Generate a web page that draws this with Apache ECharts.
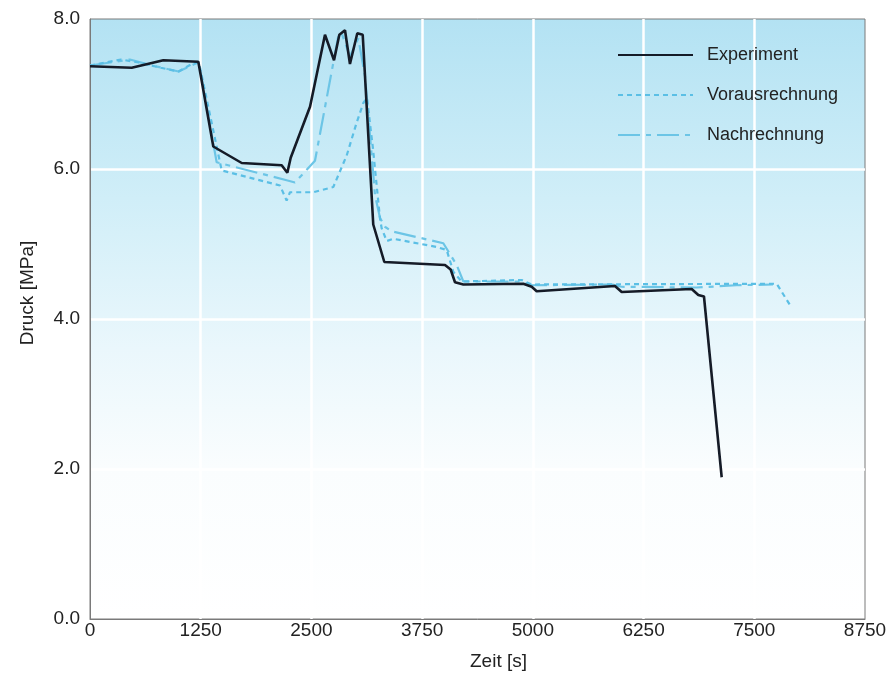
<!DOCTYPE html>
<html>
<head>
<meta charset="utf-8">
<script src="https://cdn.jsdelivr.net/npm/echarts@6/dist/echarts.min.js"></script>
<style>
html,body{margin:0;padding:0;background:#fff;}
#chart{width:891px;height:676px;}
</style>
</head>
<body>
<div id="chart"></div>
<script>
var seriesNames = ['Experiment', 'Vorausrechnung', 'Nachrechnung'];
var xTicks = [0, 1250, 2500, 3750, 5000, 6250, 7500, 8750];
var yTicks = [0, 2, 4, 6, 8];

var expTime = [0, 471, 828, 1223, 1392, 1713, 2164, 2228, 2266, 2484, 2653, 2755, 2815, 2879, 2935, 3018, 3079, 3198, 3323, 4008, 4072, 4121, 4215, 4892, 4987, 5043, 5927, 6003, 6793, 6868, 6932, 7132];
var expDruck = [7.37, 7.35, 7.45, 7.43, 6.30, 6.08, 6.05, 5.95, 6.15, 6.83, 7.79, 7.45, 7.79, 7.85, 7.40, 7.81, 7.79, 5.26, 4.76, 4.72, 4.66, 4.49, 4.46, 4.47, 4.43, 4.37, 4.44, 4.36, 4.40, 4.32, 4.30, 1.89];

var vorTime = [0, 350, 550, 800, 1000, 1150, 1230, 1487, 2145, 2220, 2258, 2521, 2747, 2898, 3011, 3086, 3127, 3195, 3274, 3293, 3350, 3424, 3914, 4027, 4102, 4196, 4874, 4987, 7753, 7922];
var vorDruck = [7.38, 7.46, 7.42, 7.35, 7.30, 7.40, 7.42, 5.98, 5.78, 5.58, 5.69, 5.69, 5.76, 6.18, 6.62, 6.88, 6.95, 6.27, 5.34, 5.21, 5.04, 5.07, 4.96, 4.92, 4.63, 4.50, 4.52, 4.46, 4.47, 4.15];

var nachTime = [0, 450, 700, 1000, 1180, 1230, 1430, 2220, 2314, 2540, 2803, 2841, 2935, 3029, 3105, 3218, 3274, 3330, 3406, 3989, 4140, 4215, 4870, 4990, 5900, 6000, 6850, 7300, 7711];
var nachDruck = [7.38, 7.46, 7.38, 7.30, 7.40, 7.42, 6.09, 5.85, 5.82, 6.11, 7.77, 7.81, 7.50, 7.74, 7.24, 5.65, 5.35, 5.23, 5.17, 5.01, 4.72, 4.50, 4.50, 4.45, 4.46, 4.43, 4.42, 4.45, 4.46];

function pairs(xs, ys) { return xs.map(function (x, i) { return [x, ys[i]]; }); }

var font = 'Liberation Sans, Arial, Helvetica, sans-serif';
var chart = echarts.init(document.getElementById('chart'), null, {renderer: 'canvas'});
chart.setOption({
  animation: false,
  grid: {
    left: 90, right: 26, top: 19, bottom: 53,
    show: true,
    borderColor: '#7a7a7a', borderWidth: 1,
    backgroundColor: {
      type: 'linear', x: 0, y: 0, x2: 0, y2: 1,
      colorStops: [
        {offset: 0, color: '#b3e2f3'},
        {offset: 0.3, color: '#d0eef8'},
        {offset: 0.55, color: '#eaf7fc'},
        {offset: 0.75, color: '#fafdfe'},
        {offset: 1, color: '#ffffff'}
      ]
    }
  },
  legend: {
    orient: 'vertical',
    left: 612, top: 41,
    itemWidth: 75, itemHeight: 14, itemGap: 22,
    data: seriesNames,
    itemStyle: {opacity: 0},
    textStyle: {fontFamily: font, fontSize: 18, color: '#222', padding: [0, 0, 0, 9]}
  },
  xAxis: {
    type: 'value', min: xTicks[0], max: xTicks[xTicks.length - 1], interval: 1250,
    name: 'Zeit [s]', nameLocation: 'middle', nameGap: 33,
    nameTextStyle: {fontFamily: font, fontSize: 19, color: '#222', padding: [0, 0, 0, 42]},
    axisLine: {show: true, lineStyle: {color: '#7a7a7a', width: 1}},
    axisTick: {show: false},
    axisLabel: {fontFamily: font, fontSize: 19, color: '#222', margin: 2, formatter: function (v) { return String(v); }},
    splitLine: {show: true, showMinLine: false, showMaxLine: false, lineStyle: {color: '#ffffff', width: 2.5}}
  },
  yAxis: {
    type: 'value', min: yTicks[0], max: yTicks[yTicks.length - 1], interval: 2,
    name: 'Druck [MPa]', nameLocation: 'middle', nameGap: 53,
    nameTextStyle: {fontFamily: font, fontSize: 19, color: '#222', padding: [0, 0, 0, 52]},
    axisLine: {show: true, lineStyle: {color: '#7a7a7a', width: 1}},
    axisTick: {show: false},
    axisLabel: {fontFamily: font, fontSize: 19, color: '#222', margin: 10, formatter: function (v) { return v.toFixed(1); }},
    splitLine: {show: true, showMinLine: false, showMaxLine: false, lineStyle: {color: '#ffffff', width: 2.5}}
  },
  series: [
    {
      name: seriesNames[0], type: 'line', data: pairs(expTime, expDruck),
      symbol: 'none', z: 5,
      lineStyle: {color: '#151b27', width: 2.6},
      itemStyle: {color: '#151b27'}
    },
    {
      name: seriesNames[1], type: 'line', data: pairs(vorTime, vorDruck),
      symbol: 'none', z: 4,
      lineStyle: {color: '#5bbfe5', width: 2.2, type: [5, 4]},
      itemStyle: {color: '#5bbfe5'}
    },
    {
      name: seriesNames[2], type: 'line', data: pairs(nachTime, nachDruck),
      symbol: 'none', z: 3,
      lineStyle: {color: '#6cc5e6', width: 2.2, type: [22, 6, 5, 6]},
      itemStyle: {color: '#6cc5e6'}
    }
  ]
});
</script>
</body>
</html>
